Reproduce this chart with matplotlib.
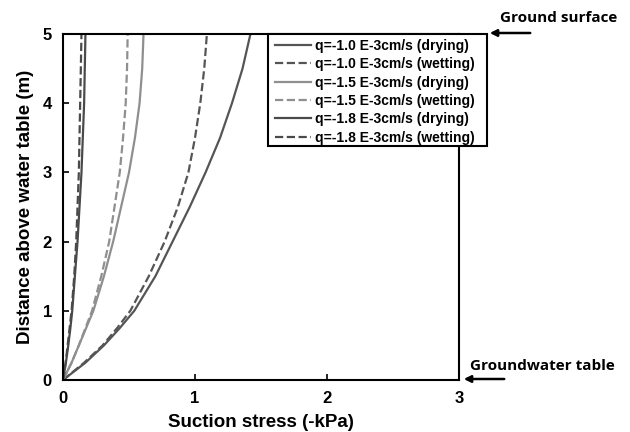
import matplotlib.pyplot as plt
from matplotlib.patches import Rectangle

# height above water table (m) and suction stress (-kPa)
height = [0, 0.25, 0.5, 0.75, 1.0, 1.5, 2.0, 2.5, 3.0, 3.5, 4.0, 4.5, 5.0]

dry_10 = [0, 0.17, 0.31, 0.43, 0.54, 0.70, 0.83, 0.96, 1.08, 1.19, 1.28, 1.36, 1.42]
wet_10 = [0, 0.16, 0.30, 0.41, 0.51, 0.65, 0.77, 0.87, 0.95, 1.00, 1.04, 1.07, 1.09]
dry_15 = [0, 0.065, 0.12, 0.175, 0.23, 0.31, 0.38, 0.44, 0.50, 0.545, 0.58, 0.60, 0.61]
wet_15 = [0, 0.065, 0.12, 0.17, 0.22, 0.29, 0.35, 0.39, 0.43, 0.455, 0.475, 0.485, 0.49]
dry_18 = [0, 0.022, 0.04, 0.056, 0.07, 0.09, 0.11, 0.125, 0.14, 0.15, 0.16, 0.165, 0.17]
wet_18 = [0, 0.02, 0.035, 0.05, 0.065, 0.085, 0.10, 0.11, 0.12, 0.125, 0.13, 0.135, 0.14]

labels = ["q=-1.0 E-3cm/s (drying)", "q=-1.0 E-3cm/s (wetting)",
          "q=-1.5 E-3cm/s (drying)", "q=-1.5 E-3cm/s (wetting)",
          "q=-1.8 E-3cm/s (drying)", "q=-1.8 E-3cm/s (wetting)"]

plt.rcParams['font.family'] = ['Liberation Sans', 'DejaVu Sans']
plt.rcParams['font.weight'] = 'bold'

fig = plt.figure(figsize=(6.3, 4.32), dpi=100)
ax = fig.add_axes([0.1, 0.1204, 0.6286, 0.8009])

series = [dry_10, wet_10, dry_15, wet_15, dry_18, wet_18]
colors = ["#555555", "#555555", "#8f8f8f", "#8f8f8f", "#4a4a4a", "#4a4a4a"]
styles = ["-", "--", "-", "--", "-", "--"]

for s, c, ls, lab in zip(series, colors, styles, labels):
    ax.plot(s, height, color=c, linestyle=ls, linewidth=1.6, label=lab,
            solid_joinstyle='round')

ax.set_xlim(0, 3)
ax.set_ylim(0, 5)
ax.set_xticks([0, 1, 2, 3])
ax.set_yticks([0, 1, 2, 3, 4, 5])
ax.tick_params(direction='in', length=4, width=1.2, labelsize=12, pad=8)
for lbl in ax.get_xticklabels() + ax.get_yticklabels():
    lbl.set_fontweight('bold')
for sp in ax.spines.values():
    sp.set_linewidth(1.5)

ax.set_xlabel("Suction stress (-kPa)", fontsize=13.5, fontweight='bold', labelpad=6)
ax.set_ylabel("Distance above water table (m)", fontsize=13.5, fontweight='bold', labelpad=6)

# legend without its own frame, white box drawn separately over the right spine
leg = fig.legend(loc='upper left', bbox_to_anchor=(275 / 630, 1 - 39 / 432),
                 fontsize=10, frameon=False, handlelength=2.6,
                 handletextpad=0.3, labelspacing=0.31, borderpad=0,
                 borderaxespad=0)
leg.set_zorder(7)
for t in leg.get_texts():
    t.set_fontweight('bold')
box = Rectangle((268 / 630, 1 - 146 / 432), 219 / 630, 112 / 432,
                transform=fig.transFigure, facecolor='white',
                edgecolor='black', linewidth=1.5, zorder=6)
fig.add_artist(box)

# arrows for ground surface and groundwater table
fig.text(500 / 630, 1 - 18 / 432, "Ground surface", fontsize=11, fontweight='bold',
         family='Open Sans', va='center', ha='left')
fig.text(470 / 630, 1 - 366 / 432, "Groundwater table", fontsize=11, fontweight='bold',
         family='Open Sans', va='center', ha='left')
ax.annotate("", xy=(487 / 630, 1 - 33 / 432), xytext=(533 / 630, 1 - 33 / 432),
            xycoords='figure fraction',
            arrowprops=dict(arrowstyle='-|>', color='black', lw=1.8, mutation_scale=10))
ax.annotate("", xy=(461 / 630, 1 - 379 / 432), xytext=(507 / 630, 1 - 379 / 432),
            xycoords='figure fraction',
            arrowprops=dict(arrowstyle='-|>', color='black', lw=1.8, mutation_scale=10))

fig.savefig("out.png", dpi=100)
